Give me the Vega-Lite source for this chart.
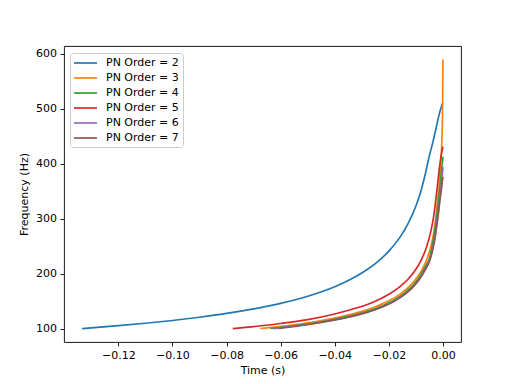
{
  "$schema": "https://vega.github.io/schema/vega-lite/v6.json",
  "width": 397,
  "height": 296,
  "autosize": {"type": "none"},
  "padding": {"left": 64, "top": 46, "right": 51, "bottom": 42},
  "background": "white",
  "config": {
    "font": "DejaVu Sans",
    "view": {"stroke": "black", "strokeWidth": 0.9},
    "axis": {
      "grid": false,
      "domain": false,
      "labelFont": "DejaVu Sans",
      "labelFontSize": 11,
      "labelColor": "black",
      "tickColor": "black",
      "tickSize": 3.9,
      "tickWidth": 0.9,
      "labelPadding": 3.5,
      "titleFont": "DejaVu Sans",
      "titleFontSize": 11,
      "titleFontWeight": "normal",
      "titleColor": "black"
    },
    "legend": {
      "labelFont": "DejaVu Sans",
      "labelFontSize": 11,
      "labelColor": "black"
    }
  },
  "data": {
    "values": [
      {"s": "PN Order = 2", "t": -0.1334, "f": 100},
      {"s": "PN Order = 2", "t": -0.120, "f": 105.2},
      {"s": "PN Order = 2", "t": -0.110, "f": 109.6},
      {"s": "PN Order = 2", "t": -0.100, "f": 114.7},
      {"s": "PN Order = 2", "t": -0.090, "f": 120.6},
      {"s": "PN Order = 2", "t": -0.080, "f": 127.5},
      {"s": "PN Order = 2", "t": -0.070, "f": 135.8},
      {"s": "PN Order = 2", "t": -0.060, "f": 145.9},
      {"s": "PN Order = 2", "t": -0.050, "f": 158.9},
      {"s": "PN Order = 2", "t": -0.040, "f": 176.2},
      {"s": "PN Order = 2", "t": -0.035, "f": 187.4},
      {"s": "PN Order = 2", "t": -0.030, "f": 201.0},
      {"s": "PN Order = 2", "t": -0.025, "f": 218.2},
      {"s": "PN Order = 2", "t": -0.020, "f": 241.0},
      {"s": "PN Order = 2", "t": -0.016, "f": 265.6},
      {"s": "PN Order = 2", "t": -0.013, "f": 290.1},
      {"s": "PN Order = 2", "t": -0.010, "f": 323.1},
      {"s": "PN Order = 2", "t": -0.008, "f": 352.9},
      {"s": "PN Order = 2", "t": -0.0065, "f": 381.8},
      {"s": "PN Order = 2", "t": -0.005, "f": 415},
      {"s": "PN Order = 2", "t": -0.0037, "f": 440},
      {"s": "PN Order = 2", "t": -0.0025, "f": 466},
      {"s": "PN Order = 2", "t": -0.0015, "f": 488},
      {"s": "PN Order = 2", "t": -0.0007, "f": 502},
      {"s": "PN Order = 2", "t": 0.0, "f": 511},

      {"s": "PN Order = 3", "t": -0.0675, "f": 100},
      {"s": "PN Order = 3", "t": -0.060, "f": 104.0},
      {"s": "PN Order = 3", "t": -0.050, "f": 110.6},
      {"s": "PN Order = 3", "t": -0.040, "f": 119.2},
      {"s": "PN Order = 3", "t": -0.032, "f": 128.5},
      {"s": "PN Order = 3", "t": -0.025, "f": 139.7},
      {"s": "PN Order = 3", "t": -0.020, "f": 150.6},
      {"s": "PN Order = 3", "t": -0.016, "f": 162.3},
      {"s": "PN Order = 3", "t": -0.013, "f": 174.0},
      {"s": "PN Order = 3", "t": -0.010, "f": 190.1},
      {"s": "PN Order = 3", "t": -0.008, "f": 204.9},
      {"s": "PN Order = 3", "t": -0.006, "f": 225.7},
      {"s": "PN Order = 3", "t": -0.0045, "f": 248.7},
      {"s": "PN Order = 3", "t": -0.0035, "f": 272},
      {"s": "PN Order = 3", "t": -0.0028, "f": 295},
      {"s": "PN Order = 3", "t": -0.0021, "f": 328},
      {"s": "PN Order = 3", "t": -0.0015, "f": 355},
      {"s": "PN Order = 3", "t": -0.0010, "f": 390},
      {"s": "PN Order = 3", "t": -0.0005, "f": 430},
      {"s": "PN Order = 3", "t": -0.0002, "f": 480},
      {"s": "PN Order = 3", "t": -0.0001, "f": 530},
      {"s": "PN Order = 3", "t": 0.0, "f": 590},

      {"s": "PN Order = 4", "t": -0.0638, "f": 100},
      {"s": "PN Order = 4", "t": -0.055, "f": 105.1},
      {"s": "PN Order = 4", "t": -0.045, "f": 112.3},
      {"s": "PN Order = 4", "t": -0.035, "f": 122.1},
      {"s": "PN Order = 4", "t": -0.028, "f": 131.4},
      {"s": "PN Order = 4", "t": -0.022, "f": 142.4},
      {"s": "PN Order = 4", "t": -0.018, "f": 152.2},
      {"s": "PN Order = 4", "t": -0.014, "f": 165.5},
      {"s": "PN Order = 4", "t": -0.011, "f": 179.2},
      {"s": "PN Order = 4", "t": -0.0085, "f": 195.3},
      {"s": "PN Order = 4", "t": -0.0065, "f": 213.5},
      {"s": "PN Order = 4", "t": -0.005, "f": 228},
      {"s": "PN Order = 4", "t": -0.0038, "f": 255},
      {"s": "PN Order = 4", "t": -0.0030, "f": 280},
      {"s": "PN Order = 4", "t": -0.0022, "f": 310},
      {"s": "PN Order = 4", "t": -0.0016, "f": 335},
      {"s": "PN Order = 4", "t": -0.0010, "f": 362},
      {"s": "PN Order = 4", "t": -0.0006, "f": 385},
      {"s": "PN Order = 4", "t": -0.0002, "f": 402},
      {"s": "PN Order = 4", "t": 0.0, "f": 413},

      {"s": "PN Order = 5", "t": -0.0777, "f": 100},
      {"s": "PN Order = 5", "t": -0.070, "f": 103.6},
      {"s": "PN Order = 5", "t": -0.060, "f": 109.2},
      {"s": "PN Order = 5", "t": -0.050, "f": 116.3},
      {"s": "PN Order = 5", "t": -0.040, "f": 126.5},
      {"s": "PN Order = 5", "t": -0.032, "f": 137.3},
      {"s": "PN Order = 5", "t": -0.025, "f": 149.9},
      {"s": "PN Order = 5", "t": -0.020, "f": 162.3},
      {"s": "PN Order = 5", "t": -0.016, "f": 175.8},
      {"s": "PN Order = 5", "t": -0.013, "f": 189.3},
      {"s": "PN Order = 5", "t": -0.010, "f": 207.9},
      {"s": "PN Order = 5", "t": -0.008, "f": 225.2},
      {"s": "PN Order = 5", "t": -0.006, "f": 249.5},
      {"s": "PN Order = 5", "t": -0.0045, "f": 276.5},
      {"s": "PN Order = 5", "t": -0.0035, "f": 302.5},
      {"s": "PN Order = 5", "t": -0.0028, "f": 328},
      {"s": "PN Order = 5", "t": -0.0020, "f": 362},
      {"s": "PN Order = 5", "t": -0.0013, "f": 393},
      {"s": "PN Order = 5", "t": -0.0007, "f": 414},
      {"s": "PN Order = 5", "t": 0.0, "f": 431},

      {"s": "PN Order = 6", "t": -0.0626, "f": 100},
      {"s": "PN Order = 6", "t": -0.055, "f": 104.3},
      {"s": "PN Order = 6", "t": -0.045, "f": 111.5},
      {"s": "PN Order = 6", "t": -0.035, "f": 121},
      {"s": "PN Order = 6", "t": -0.028, "f": 130},
      {"s": "PN Order = 6", "t": -0.022, "f": 140.5},
      {"s": "PN Order = 6", "t": -0.018, "f": 150},
      {"s": "PN Order = 6", "t": -0.014, "f": 163},
      {"s": "PN Order = 6", "t": -0.011, "f": 176.5},
      {"s": "PN Order = 6", "t": -0.0085, "f": 192},
      {"s": "PN Order = 6", "t": -0.0065, "f": 209},
      {"s": "PN Order = 6", "t": -0.005, "f": 224},
      {"s": "PN Order = 6", "t": -0.0038, "f": 247},
      {"s": "PN Order = 6", "t": -0.0030, "f": 267},
      {"s": "PN Order = 6", "t": -0.0022, "f": 295},
      {"s": "PN Order = 6", "t": -0.0016, "f": 318},
      {"s": "PN Order = 6", "t": -0.0012, "f": 335},
      {"s": "PN Order = 6", "t": -0.0007, "f": 358},
      {"s": "PN Order = 6", "t": -0.0003, "f": 378},
      {"s": "PN Order = 6", "t": 0.0, "f": 394},

      {"s": "PN Order = 7", "t": -0.0607, "f": 100},
      {"s": "PN Order = 7", "t": -0.055, "f": 103.7},
      {"s": "PN Order = 7", "t": -0.045, "f": 111},
      {"s": "PN Order = 7", "t": -0.035, "f": 120.5},
      {"s": "PN Order = 7", "t": -0.028, "f": 129.5},
      {"s": "PN Order = 7", "t": -0.022, "f": 140},
      {"s": "PN Order = 7", "t": -0.018, "f": 149.5},
      {"s": "PN Order = 7", "t": -0.014, "f": 162.5},
      {"s": "PN Order = 7", "t": -0.011, "f": 176},
      {"s": "PN Order = 7", "t": -0.0085, "f": 191},
      {"s": "PN Order = 7", "t": -0.0065, "f": 207.5},
      {"s": "PN Order = 7", "t": -0.005, "f": 222},
      {"s": "PN Order = 7", "t": -0.0038, "f": 243},
      {"s": "PN Order = 7", "t": -0.0030, "f": 262},
      {"s": "PN Order = 7", "t": -0.0022, "f": 290},
      {"s": "PN Order = 7", "t": -0.0016, "f": 312},
      {"s": "PN Order = 7", "t": -0.0011, "f": 335},
      {"s": "PN Order = 7", "t": -0.0006, "f": 352},
      {"s": "PN Order = 7", "t": -0.0003, "f": 365},
      {"s": "PN Order = 7", "t": 0.0, "f": 376}
    ]
  },
  "mark": {"type": "line", "strokeWidth": 1.67, "clip": true, "interpolate": "monotone"},
  "encoding": {
    "x": {
      "field": "t",
      "type": "quantitative",
      "title": "Time (s)",
      "scale": {"domain": [-0.1401, 0.00667], "nice": false, "zero": false},
      "axis": {"values": [-0.12, -0.1, -0.08, -0.06, -0.04, -0.02, 0], "format": ".2f", "titlePadding": 4}
    },
    "y": {
      "field": "f",
      "type": "quantitative",
      "title": "Frequency (Hz)",
      "scale": {"domain": [75.5, 614.5], "nice": false, "zero": false},
      "axis": {"values": [100, 200, 300, 400, 500, 600], "titlePadding": 6}
    },
    "color": {
      "field": "s",
      "type": "nominal",
      "scale": {
        "domain": ["PN Order = 2", "PN Order = 3", "PN Order = 4", "PN Order = 5", "PN Order = 6", "PN Order = 7"],
        "range": ["#1f77b4", "#ff7f0e", "#2ca02c", "#d62728", "#9467bd", "#8c564b"]
      },
      "legend": {
        "title": null,
        "orient": "none",
        "legendX": 6,
        "legendY": 7,
        "symbolType": "M-1.2,0H3.4",
        "symbolSize": 100,
        "symbolStrokeWidth": 1.67,
        "labelOffset": 20,
        "rowPadding": 4,
        "padding": 4,
        "fillColor": "rgba(255,255,255,0.8)",
        "strokeColor": "#cccccc",
        "cornerRadius": 3
      }
    }
  }
}
